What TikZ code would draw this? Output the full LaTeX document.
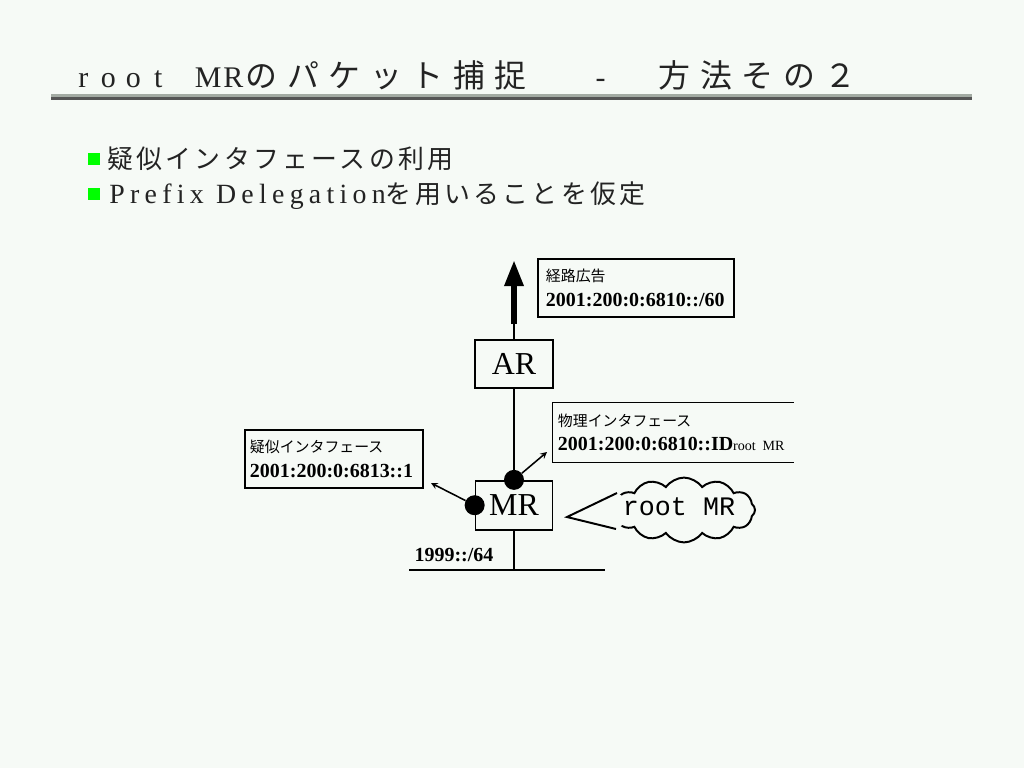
\documentclass[tikz,border=0pt]{standalone}
\usepackage{fontspec}
\setmainfont{Liberation Serif}
\setmonofont{Liberation Mono}
\newfontfamily\jpfont{Noto Sans CJK JP}
\newfontfamily\jptitle[LetterSpace=30]{Noto Sans CJK JP}
\newfontfamily\jpbody[LetterSpace=13]{Noto Sans CJK JP}
\newfontfamily\latbody[LetterSpace=19]{Liberation Serif}
\newcommand\tch[1]{\makebox[0.625cm]{#1}}
\newcommand\jpl[1]{{\jpfont\mdseries\fontsize{10.6}{17.5}\selectfont #1}}
\definecolor{slideBg}{RGB}{246,250,246}
\definecolor{ruleLight}{RGB}{163,171,163}
\definecolor{ruleDark}{RGB}{85,85,85}
\definecolor{textGray}{RGB}{35,35,35}
\usetikzlibrary{shapes,arrows,arrows.meta,positioning}

\begin{document}
\begin{tikzpicture}[
  x=0.025cm, y=-0.025cm,
  box/.style={
    draw, line width=1.2pt, inner sep=0pt, font=\fontsize{22.7}{26}\selectfont
  },
  lbl/.style={
    draw, line width=0.8pt, inner ysep=0pt, align=left,
    minimum height=1.45cm, font=\fontsize{14.2}{17.5}\selectfont\bfseries
  },
  arr/.style={->, >=stealth, line width=1.1pt},
  wire/.style={line width=1.9pt},
  dot/.style={circle, fill, inner sep=0pt, minimum size=0.5cm},
  bullet/.style={fill=green, inner sep=0pt, minimum size=0.3cm}
]
  \path[fill=slideBg, use as bounding box] (0,0) rectangle (1024,768);

  \node[anchor=base west, inner sep=0pt, text=textGray] (title) at (70.5,88)
    {\fontsize{21.3}{26}\selectfont\tch{r}\tch{o}\tch{o}\tch{t}\tch{ }\tch{M}\tch{R}%
     {\fontsize{22.7}{26}\jptitle のパケット捕捉}\hspace{1.72cm}-\hspace{1.33cm}%
     {\fontsize{22.7}{26}\jptitle 方法その２}};
  \fill[ruleLight] (51,94) rectangle (972,97);
  \fill[ruleDark] (51,97) rectangle (972,100);

  \node[bullet] (b1) at (94,159) {};
  \node[anchor=base west, inner sep=0pt, text=textGray] (t1) at (107,169)
    {\fontsize{18.4}{22}\jpbody 疑似インタフェースの利用};
  \node[bullet] (b2) at (94,194) {};
  \node[anchor=base west, inner sep=0pt, text=textGray] (t2) at (109,203)
    {\fontsize{19.8}{22}\latbody Prefix Delegation\fontsize{18.4}{22}\jpbody を用いることを仮定};

  \node[box, minimum width=1.95cm, minimum height=1.2cm] (AR) at (514,364) {AR};
  \node[box, minimum width=1.925cm, minimum height=1.225cm, below=2.275cm of AR] (MR) {MR};
  \coordinate (adv) at (514,324);
  \coordinate (advtip) at (514,260);
  \draw[wire] (AR.north) -- (adv);
  \draw[line width=0.15cm, -{Triangle[length=0.65cm,width=0.45cm]}] (adv) -- (advtip);
  \draw[wire] (AR.south) -- (MR.north);

  \coordinate (netL) at (409,570);
  \coordinate (netR) at (605,570);
  \draw[wire] (MR.south) -- (MR.south |- netL);
  \draw[wire] (netL) -- (netR);
  \node[font=\fontsize{14.2}{17}\selectfont\bfseries] (net) at (454,555) {1999::/64};

  \node[lbl, minimum width=4.9cm, text width=4.5cm] (adlbl) at (636,288)
    {\jpl{経路広告}\\2001:200:0:6810::/60};
  \node[lbl, draw=none, minimum width=6cm, text width=5.75cm] (plbl) at (673,432.5)
    {\jpl{物理インタフェース}\\2001:200:0:6810::ID{\mdseries\fontsize{10}{12}\selectfont root MR}};
  \draw[line width=0.8pt] (plbl.north east) -- (plbl.north west) -- (plbl.south west) -- (plbl.south east);
  \node[lbl, minimum width=4.45cm, text width=4.2cm] (vlbl) at (334,459)
    {\jpl{疑似インタフェース}\\2001:200:0:6813::1};

  \node[dot] (pif) at (MR.north) {};
  \node[dot] (vif) at (MR.west) {};
  \coordinate (pend) at (547,452);
  \coordinate (vend) at (431,483);
  \draw[arr] (pif) -- (pend);
  \draw[arr] (vif) -- (vend);

  \node[cloud, draw, line width=1.4pt, cloud puffs=12, cloud puff arc=110,
    cloud ignores aspect, inner sep=0pt, minimum width=3.55cm, minimum height=1.62cm] (cl) at (684,510) {};
  \node[font=\ttfamily\fontsize{19}{22}\selectfont] (rootmr) at (679,507) {root MR};
  \coordinate (tip) at (567,517);
  \coordinate (cu) at (617,493);
  \coordinate (cd) at (616,529);
  \fill[slideBg] (cu) -- (tip) -- (cd) -- (624,524) -- (624,497) -- cycle;
  \draw[line width=1.4pt] (cu) -- (tip) -- (cd);
\end{tikzpicture}
\end{document}
